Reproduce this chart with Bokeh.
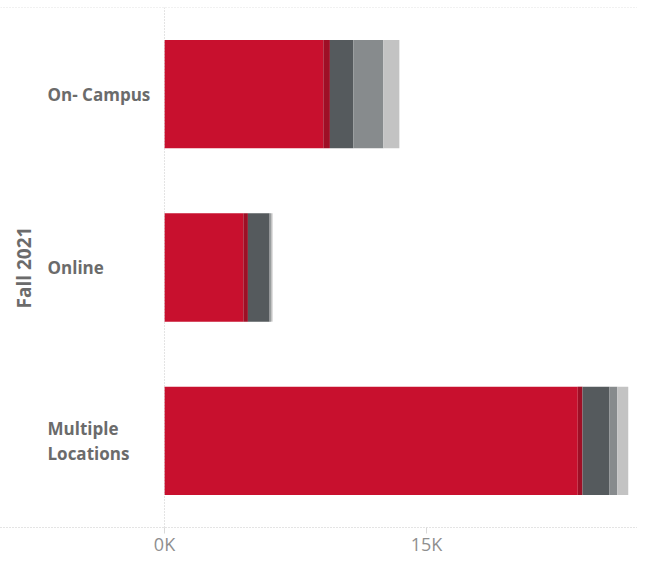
import math
from bokeh.plotting import figure
from bokeh.models import Range1d, FactorRange, Span, FixedTicker, ColumnDataSource
from bokeh.core.properties import value
from bokeh.embed import file_html
from bokeh.resources import INLINE

# ---- data ----
categories = ["On- Campus", "Online", "Multiple Locations"]
display_labels = ["On- Campus", "Online", "Multiple\nLocations"]
seg_red = [9090, 4510, 23660]
seg_darkred = [380, 265, 270]
seg_darkgray = [1340, 1240, 1530]
seg_gray = [1720, 75, 460]
seg_lightgray = [915, 95, 630]
tick_values = [0, 15000]
tick_labels = ["0K", "15K"]
y_title = "Fall 2021"

seg_names = ["red", "darkred", "darkgray", "gray", "lightgray"]
seg_colors = ["#c8102e", "#9e0f26", "#555a5d", "#878b8d", "#c3c3c3"]

src = ColumnDataSource(dict(cat=categories, red=seg_red, darkred=seg_darkred,
                            darkgray=seg_darkgray, gray=seg_gray, lightgray=seg_lightgray))

x_start, x_end = -9390, 27080
p = figure(width=637, height=558, output_backend="svg", toolbar_location=None,
           x_range=Range1d(x_start, x_end),
           y_range=FactorRange(factors=list(reversed(categories)), range_padding=0),
           min_border_left=0, min_border_right=0, min_border_top=7, min_border_bottom=28)

p.hbar_stack(seg_names, y="cat", height=0.625, color=seg_colors, source=src, line_color=None)

p.xgrid.visible = False
p.ygrid.visible = False
p.yaxis.visible = False
p.outline_line_color = None

ax = p.xaxis[0]
ax.ticker = FixedTicker(ticks=tick_values)
ax.major_label_overrides = {t: l for t, l in zip(tick_values, tick_labels)}
ax.minor_tick_line_color = None
ax.major_tick_in = 0
ax.major_tick_out = 6
ax.major_tick_line_color = "#d9d9d9"
ax.axis_line_color = "#c8c8c8"
ax.axis_line_dash = "1 2"
ax.major_label_text_font = "Open Sans"
ax.major_label_text_font_size = "18px"
ax.major_label_text_color = "#8f8f8f"
ax.major_label_standoff = -2

p.add_layout(Span(location=3, dimension="width", line_color="#c8c8c8", line_dash="1 2", line_width=1))
p.add_layout(Span(location=0, dimension="height", line_color="#c8c8c8", line_dash="1 2", line_width=1))

lab_src = ColumnDataSource(dict(y=categories, text=display_labels, x=[x_start] * len(categories)))
p.text(x="x", y="y", text="text", source=lab_src, x_offset=47, text_align="left",
       text_baseline="middle", text_font=value("Open Sans"), text_font_style="bold",
       text_font_size="17px", text_color="#6b6b6b", text_line_height=1.1)

p.text(x=[x_start], y=[categories[1]], text=[y_title], x_offset=23, angle=math.pi / 2,
       text_align="center", text_baseline="middle", text_font=value("Open Sans"),
       text_font_style="bold", text_font_size="19px", text_color="#6b6b6b")

open("out.html", "w").write(file_html(p, INLINE))
